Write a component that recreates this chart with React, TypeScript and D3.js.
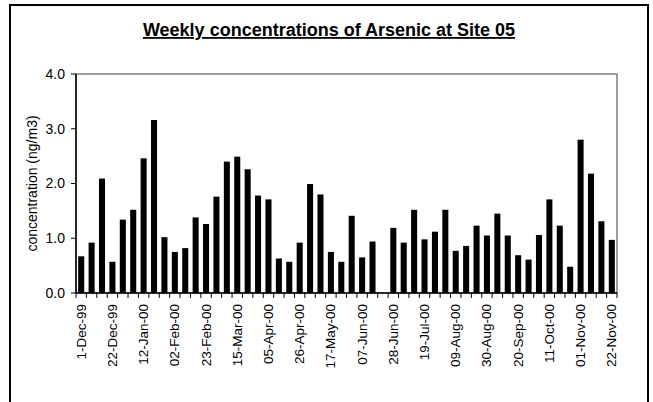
import React from "react";
import * as d3 from "d3";

const weeks: string[] = [
  "1-Dec-99", "08-Dec-99", "15-Dec-99", "22-Dec-99", "29-Dec-99", "05-Jan-00", "12-Jan-00",
  "19-Jan-00", "26-Jan-00", "02-Feb-00", "09-Feb-00", "16-Feb-00", "23-Feb-00", "01-Mar-00",
  "08-Mar-00", "15-Mar-00", "22-Mar-00", "29-Mar-00", "05-Apr-00", "12-Apr-00", "19-Apr-00",
  "26-Apr-00", "03-May-00", "10-May-00", "17-May-00", "24-May-00", "31-May-00", "07-Jun-00",
  "14-Jun-00", "21-Jun-00", "28-Jun-00", "05-Jul-00", "12-Jul-00", "19-Jul-00", "26-Jul-00",
  "02-Aug-00", "09-Aug-00", "16-Aug-00", "23-Aug-00", "30-Aug-00", "06-Sep-00", "13-Sep-00",
  "20-Sep-00", "27-Sep-00", "04-Oct-00", "11-Oct-00", "18-Oct-00", "25-Oct-00", "01-Nov-00",
  "08-Nov-00", "15-Nov-00", "22-Nov-00",
];

const arsenic: (number | null)[] = [
  0.67, 0.92, 2.09, 0.57, 1.34, 1.52, 2.46, 3.16, 1.02, 0.75,
  0.82, 1.38, 1.26, 1.76, 2.4, 2.49, 2.26, 1.78, 1.71, 0.63,
  0.57, 0.92, 1.99, 1.8, 0.75, 0.57, 1.41, 0.65, 0.94, null,
  1.19, 0.92, 1.52, 0.98, 1.12, 1.52, 0.77, 0.86, 1.23, 1.05,
  1.45, 1.05, 0.69, 0.61, 1.06, 1.71, 1.23, 0.48, 2.8, 2.18,
  1.31, 0.97,
];

const yTicks: number[] = [0, 1, 2, 3, 4];
const labelEvery = 3;

const titleText = "Weekly concentrations of Arsenic at Site 05";
const yAxisTitle = "concentration (ng/m3)";

export default function App() {
  const W = 653;
  const H = 402;
  const left = 76;
  const right = 617;
  const top = 74;
  const bottom = 293;

  const x = d3.scaleBand<string>().domain(weeks).range([left, right]).padding(0);
  const y = d3.scaleLinear().domain([0, 4]).range([bottom, top]);
  const bw = x.bandwidth() * 0.58;
  const fmt = d3.format(".1f");
  const font = "'Liberation Sans', Arial, sans-serif";

  const boundaries = d3.range(weeks.length + 1).map((i) => left + i * x.bandwidth());

  return (
    <svg
      width={W}
      height={H}
      style={{ position: "absolute", left: 0, top: 0, background: "#fff" }}
      fontFamily={font}
    >
      <rect x={0} y={0} width={W} height={H} fill="#fff" />
      <rect x={10} y={5} width={638} height={430} fill="none" stroke="#000" strokeWidth={2} />

      <text
        x={329}
        y={36}
        textAnchor="middle"
        fontSize={18}
        fontWeight="bold"
        textDecoration="underline"
        fill="#000"
      >
        {titleText}
      </text>

      {/* plot area border */}
      <rect x={left} y={top} width={right - left} height={bottom - top} fill="none" stroke="#808080" strokeWidth={1.5} />

      {/* bars */}
      {weeks.map((w, i) => {
        const v = arsenic[i];
        if (v == null) return null;
        const cx = (x(w) as number) + x.bandwidth() / 2;
        return <rect key={w} x={cx - bw / 2} y={y(v)} width={bw} height={bottom - y(v)} fill="#000" />;
      })}

      {/* y axis */}
      <line x1={left} x2={left} y1={top} y2={bottom} stroke="#000" strokeWidth={1.5} />
      {yTicks.map((t) => (
        <g key={t}>
          <line x1={left - 5} x2={left} y1={y(t)} y2={y(t)} stroke="#000" strokeWidth={1} />
          <text x={65} y={y(t)} dy="0.35em" textAnchor="end" fontSize={14} fill="#000">
            {fmt(t)}
          </text>
        </g>
      ))}
      <text
        transform={`translate(37, ${(top + bottom) / 2}) rotate(-90)`}
        textAnchor="middle"
        fontSize={14}
        fill="#000"
      >
        {yAxisTitle}
      </text>

      {/* x axis */}
      <line x1={left} x2={right} y1={bottom} y2={bottom} stroke="#000" strokeWidth={1.5} />
      {boundaries.map((bx, i) => (
        <line key={i} x1={bx} x2={bx} y1={bottom} y2={bottom + 5} stroke="#000" strokeWidth={1} />
      ))}
      {weeks.map((w, i) =>
        i % labelEvery === 0 ? (
          <text
            key={w}
            transform={`translate(${(x(w) as number) + x.bandwidth() / 2 + 4.5}, 304) rotate(-90)`}
            textAnchor="end"
            fontSize={13.5}
            fill="#000"
          >
            {w}
          </text>
        ) : null
      )}
    </svg>
  );
}
